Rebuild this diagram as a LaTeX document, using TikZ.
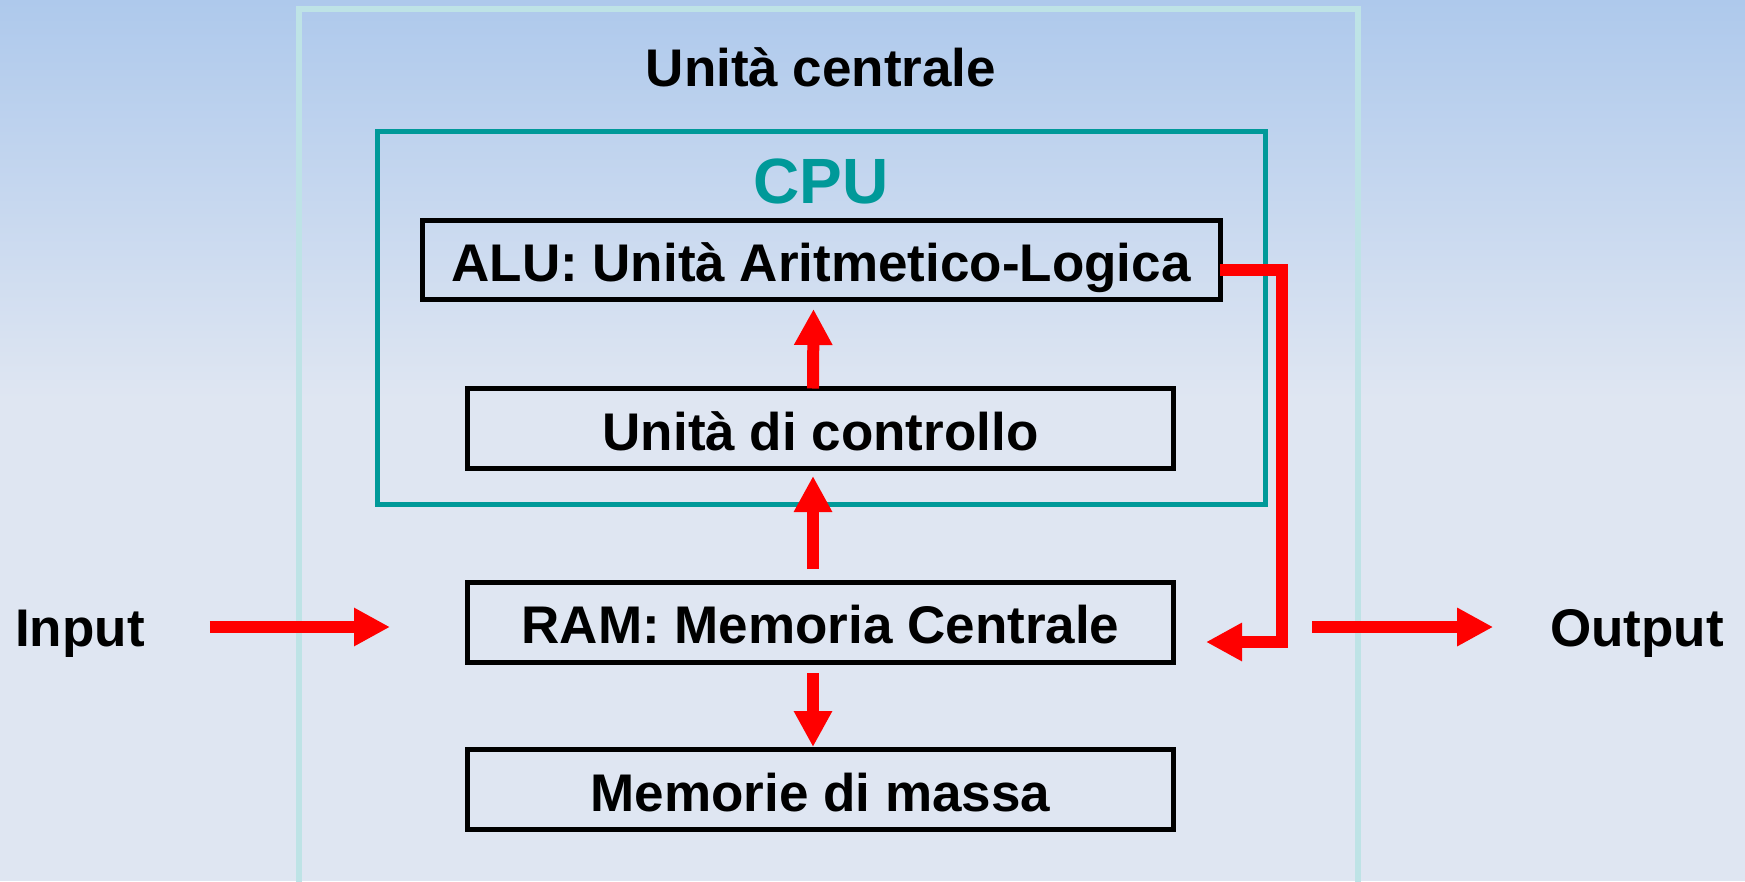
\documentclass[tikz,border=0pt]{standalone}
\usepackage{fontspec}
\setmainfont{Liberation Sans}
\usepackage{xcolor}
\usepackage{tikz}
\usetikzlibrary{arrows.meta, positioning}

\definecolor{cputeal}{RGB}{0,153,153}
\definecolor{outerteal}{RGB}{190,227,230}
\definecolor{bgtop}{RGB}{174,201,236}
\definecolor{bgbottom}{RGB}{223,230,242}

\begin{document}
\begin{tikzpicture}[
  x=1pt, y=-1pt,
  bigtext/.style={inner sep=0pt, outer sep=0pt, font=\fontsize{53}{60}\selectfont\bfseries, text height=38pt, text depth=0pt},
  unit/.style={rectangle, draw, line width=5pt, minimum width=706pt, minimum height=80pt, bigtext, text height=43pt},
  flow/.style={draw=red, line width=12pt, line join=miter, -{Triangle[length=36pt,width=36pt]}}
]
\clip (0,0) rectangle (1745,881);
% background
\fill[top color=bgtop, bottom color=bgbottom] (0,0) rectangle (1745,400);
\fill[bgbottom] (0,399) rectangle (1745,881);

% frames
\draw[outerteal, line width=6pt] (299,9) rectangle (1358,920);
\draw[cputeal, line width=5pt] (377.5,131.5) rectangle (1265.5,504.5);

\node[bigtext] (central) at (821,67) {Unità centrale};
\node[bigtext, text=cputeal, font=\fontsize{64}{70}\selectfont\bfseries, text height=46pt] (cpu) at (821,180) {CPU};

\node[unit, minimum width=798pt, minimum height=79pt] (alu) at (821,260) {ALU: Unità Aritmetico-Logica};
\node[unit, below=89pt of alu.south, anchor=north, xshift=-0.5pt] (ctrl) {Unità di controllo};
\node[unit, below=113.5pt of ctrl] (ram) {RAM: Memoria Centrale};
\node[unit, below=87.5pt of ram] (massa) {Memorie di massa};

\node[bigtext] (input) at (80,627) {Input};
\node[bigtext] (output) at (1637,627) {Output};
\coordinate (turn) at (1282,642);

% connectors
\draw[flow] ([xshift=-7.5pt]ctrl.north) -- ([xshift=-7.5pt,yshift=-9.5pt]alu.south);
\draw[flow] ([xshift=-7.5pt,yshift=13pt]ram.north) -- ([xshift=-7.5pt,yshift=-7.5pt]ctrl.south);
\draw[flow] ([xshift=-7.5pt,yshift=-11pt]ram.south) -- ([xshift=-7.5pt,yshift=2.5pt]massa.north);
\draw[flow] ([xshift=65pt]input.east) -- ([xshift=-77.5pt]ram.west |- input.east);
\draw[flow] ([xshift=138.5pt]ram.east |- output.west) -- ([xshift=-57pt]output.west);
\draw[flow] ([yshift=-10pt]alu.east) -| (turn) -- ([xshift=32.5pt]ram.east |- turn);
\end{tikzpicture}
\end{document}
